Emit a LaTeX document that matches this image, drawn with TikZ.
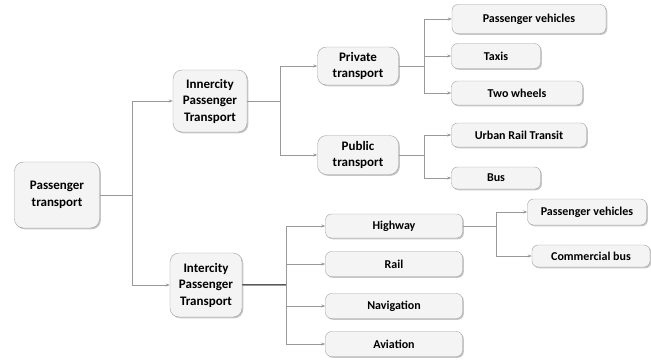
\documentclass[tikz,border=0pt]{standalone}
\usepackage{fontspec}
\setmainfont{Carlito}
\usetikzlibrary{arrows.meta,shadows}

\begin{document}
\begin{tikzpicture}[x=1pt,y=-1pt,
    box/.style={rounded corners=6pt,draw=gray!75,fill=gray!9,align=center,
      font=\bfseries\fontsize{12}{14}\selectfont,text=black,
      drop shadow={shadow xshift=1.3pt,shadow yshift=-1.3pt,opacity=0.45},
      inner sep=0pt,minimum height=24pt},
    big_box/.style={box,rounded corners=9pt,font=\bfseries\fontsize{13}{16.5}\selectfont},
    link/.style={draw=gray!80,line width=0.7pt,-{Stealth[length=4pt,width=3pt]}}]

    \useasboundingbox (0,0) rectangle (651,362);

    % level 0 and 1
    \node[big_box,minimum width=85pt,minimum height=66pt] (pt) at (57,195) {Passenger\\transport};
    \node[big_box,minimum width=74pt,minimum height=62pt] (inner) at (210,101) {Innercity\\Passenger\\Transport};
    \node[big_box,minimum width=72pt,minimum height=64pt] (inter) at (206,285) {Intercity\\Passenger\\Transport};

    % innercity branch
    \node[big_box,minimum width=81pt,minimum height=38pt] (priv) at (358,66) {Private\\transport};
    \node[big_box,minimum width=81pt,minimum height=39pt] (pub) at (358,155) {Public\\transport};
    \node[box,minimum width=154pt,minimum height=29pt] (pv1) at (529,19) {Passenger vehicles};
    \node[box,minimum width=89pt,minimum height=25pt] (taxi) at (496,56) {Taxis};
    \node[box,minimum width=131pt] (two) at (517,93) {Two wheels};
    \node[box,minimum width=135pt] (urt) at (519,135) {Urban Rail Transit};
    \node[box,minimum width=89pt,minimum height=22pt] (bus) at (496,178) {Bus};

    % intercity branch
    \node[box,minimum width=137pt] (hwy) at (394,226) {Highway};
    \node[box,minimum width=137pt,minimum height=25pt] (rail) at (394,264) {Rail};
    \node[box,minimum width=137pt,minimum height=25pt] (nav) at (394,306) {Navigation};
    \node[box,minimum width=137pt,minimum height=25pt] (avi) at (394,344) {Aviation};
    \node[box,minimum width=119pt,minimum height=26pt] (pv2) at (587,212) {Passenger vehicles};
    \node[box,minimum width=118pt,minimum height=22pt] (cbus) at (591,256) {Commercial bus};

    % connectors
    \draw[link] (pt.east) -- ++(33,0) |- (inner.west);
    \draw[link] (pt.east) -- ++(33,0) |- (inter.west);
    \draw[link] (inner.east) -- ++(33,0) |- (priv.west);
    \draw[link] (inner.east) -- ++(33,0) |- (pub.west);
    \foreach \t in {pv1,taxi,two}
        \draw[link] (priv.east) -- ++(26,0) |- (\t.west);
    \foreach \t in {urt,bus}
        \draw[link] (pub.east) -- ++(26,0) |- (\t.west);
    \draw[draw=gray!70!black,line width=1.6pt] (inter.east) -- ++(44,0);
    \foreach \t in {hwy,rail,nav,avi}
        \draw[link] (inter.east) -- ++(44,0) |- (\t.west);
    \foreach \t in {pv2,cbus}
        \draw[link] (hwy.east) -- ++(34,0) |- (\t.west);
\end{tikzpicture}
\end{document}
